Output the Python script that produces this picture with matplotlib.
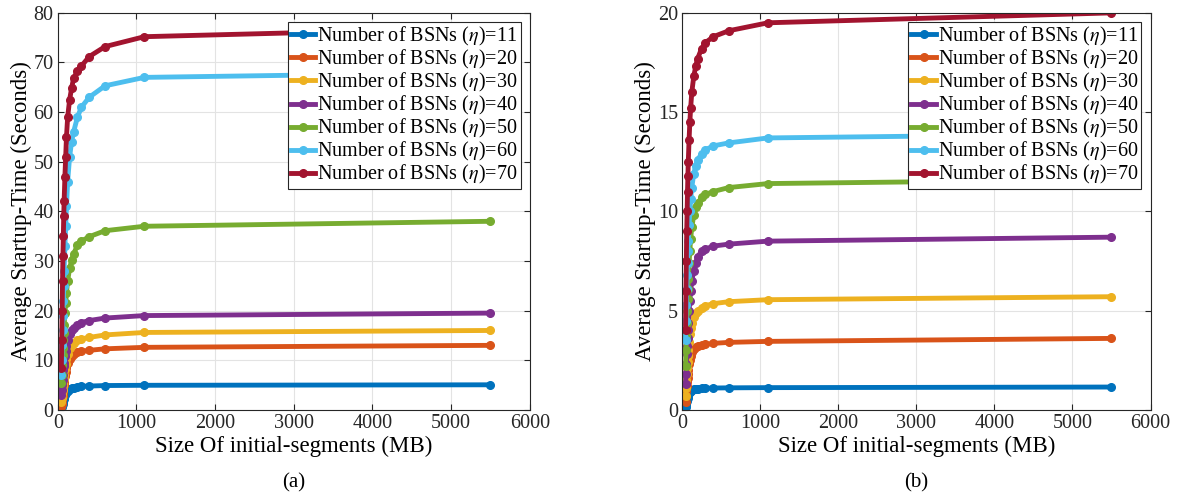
import matplotlib
matplotlib.use("Agg")
import matplotlib.pyplot as plt

plt.rcParams.update({"font.family": "Liberation Serif", "mathtext.fontset": "stix",
                     "font.size": 14.5, "axes.edgecolor": "#262626",
                     "axes.linewidth": 0.8, "xtick.direction": "in",
                     "ytick.direction": "in", "xtick.color": "#262626",
                     "ytick.color": "#262626"})

# segment sizes (MB)
sizes = [45, 50, 55, 60, 65, 70, 75, 80, 90, 100, 110, 125, 150, 175, 200,
         250, 300, 400, 600, 1100, 5500]
bsn = [11, 20, 30, 40, 50, 60, 70]
colors = ["#0072BD", "#D95319", "#EDB120", "#7E2F8E", "#77AC30", "#4DBEEE", "#A2142F"]

# (a)
a_11 = [0.3, 0.6, 0.9, 1.2, 1.5, 1.8, 2.1, 2.4, 2.9, 3.3, 3.6, 3.9, 4.2, 4.4, 4.5,
        4.65, 4.75, 4.8, 4.9, 4.95, 5.05]
a_20 = [0.5, 1.2, 2.0, 2.8, 3.6, 4.3, 5.0, 5.7, 6.8, 7.7, 8.5, 9.4, 10.3, 10.8, 11.2,
        11.6, 11.8, 12.0, 12.3, 12.6, 13.0]
a_30 = [1.5, 2.3, 3.2, 4.0, 4.8, 5.5, 6.3, 7.0, 8.3, 9.3, 10.2, 11.3, 12.4, 13.0, 13.5,
        14.0, 14.3, 14.6, 15.1, 15.6, 16.0]
a_40 = [3.0, 4.0, 5.0, 6.0, 7.0, 8.0, 8.8, 9.5, 10.8, 11.8, 12.8, 14.0, 15.3, 16.0,
        16.5, 17.2, 17.6, 18.0, 18.5, 19.0, 19.5]
a_50 = [5.5, 7.0, 9.0, 11.0, 12.5, 14.0, 15.5, 17.0, 19.5, 21.5, 23.5, 26.0, 28.5,
        30.2, 31.4, 33.2, 34.0, 34.9, 36.1, 37.0, 38.0]
a_60 = [7.0, 10.0, 13.0, 16.0, 19.0, 22.0, 25.0, 28.0, 33.0, 37.0, 41.0, 46.0, 51.0,
        54.0, 56.0, 59.0, 61.0, 63.0, 65.3, 67.0, 68.0]
a_70 = [8.5, 14.0, 20.0, 26.0, 31.0, 35.0, 39.0, 42.0, 47.0, 51.0, 55.0, 59.0, 62.5,
        64.8, 66.8, 68.3, 69.3, 71.2, 73.2, 75.2, 77.0]

# (b)
b_11 = [0.15, 0.25, 0.35, 0.45, 0.55, 0.62, 0.7, 0.76, 0.85, 0.92, 0.97, 1.01, 1.04,
        1.06, 1.07, 1.08, 1.09, 1.1, 1.11, 1.12, 1.15]
b_20 = [0.4, 0.7, 0.95, 1.2, 1.4, 1.6, 1.8, 2.0, 2.3, 2.5, 2.7, 2.9, 3.05, 3.15, 3.2,
        3.27, 3.3, 3.35, 3.4, 3.45, 3.6]
b_30 = [0.7, 1.1, 1.5, 1.8, 2.1, 2.4, 2.7, 3.0, 3.4, 3.8, 4.1, 4.4, 4.7, 4.9, 5.0,
        5.15, 5.25, 5.35, 5.45, 5.55, 5.7]
b_40 = [1.3, 1.8, 2.3, 2.8, 3.2, 3.6, 4.0, 4.4, 5.0, 5.5, 6.0, 6.5, 7.0, 7.4, 7.7,
        8.0, 8.1, 8.25, 8.35, 8.5, 8.7]
b_50 = [2.2, 3.0, 3.7, 4.4, 5.0, 5.6, 6.1, 6.6, 7.4, 8.0, 8.6, 9.2, 9.8, 10.2, 10.4,
        10.7, 10.85, 11.0, 11.2, 11.4, 11.6]
b_60 = [3.5, 4.5, 5.3, 6.1, 6.8, 7.4, 8.0, 8.5, 9.3, 10.0, 10.6, 11.2, 11.9, 12.3,
        12.6, 12.9, 13.1, 13.3, 13.45, 13.7, 13.9]
b_70 = [4.0, 6.0, 7.5, 9.0, 10.0, 11.0, 11.8, 12.5, 13.6, 14.5, 15.2, 16.0, 16.8,
        17.3, 17.7, 18.2, 18.5, 18.8, 19.1, 19.5, 20.0]

panel_a = [a_11, a_20, a_30, a_40, a_50, a_60, a_70]
panel_b = [b_11, b_20, b_30, b_40, b_50, b_60, b_70]


def panel(ax, series, ymax, ystep, tag):
    for n, ys, c in zip(bsn, series, colors):
        ax.plot(sizes, ys, color=c, lw=3.5, marker="o", ms=5.5,
                label=rf"Number of BSNs ($\eta$)={n}")
    ax.set_xlim(0, 6000)
    ax.set_ylim(0, ymax)
    ax.set_xticks(range(0, 6001, 1000))
    ax.set_yticks(range(0, ymax + 1, ystep))
    ax.grid(True, color="#e3e3e3", lw=0.8)
    ax.set_axisbelow(True)
    ax.tick_params(top=True, right=True, length=4, labelsize=14.5, pad=3)
    ax.set_xlabel("Size Of initial-segments (MB)", fontsize=16.5, labelpad=2)
    ax.set_ylabel("Average Startup-Time (Seconds)", fontsize=16.5, labelpad=1)
    ax.text(0.5, -0.16, tag, transform=ax.transAxes, ha="center", va="top",
            fontsize=15)
    leg = ax.legend(loc="upper right", fontsize=14.5, handlelength=1.2,
                    handletextpad=0.12, labelspacing=0.0, borderpad=0.15,
                    borderaxespad=0.45, fancybox=False, framealpha=1)
    leg.get_frame().set_edgecolor("#262626")
    leg.get_frame().set_linewidth(0.8)


fig = plt.figure(figsize=(11.8, 4.95), dpi=100)
ax1 = fig.add_axes([0.049, 0.172, 0.4, 0.802])
ax2 = fig.add_axes([0.578, 0.172, 0.397, 0.802])
panel(ax1, panel_a, 80, 10, "(a)")
panel(ax2, panel_b, 20, 5, "(b)")
fig.savefig("out.png", facecolor="white")
